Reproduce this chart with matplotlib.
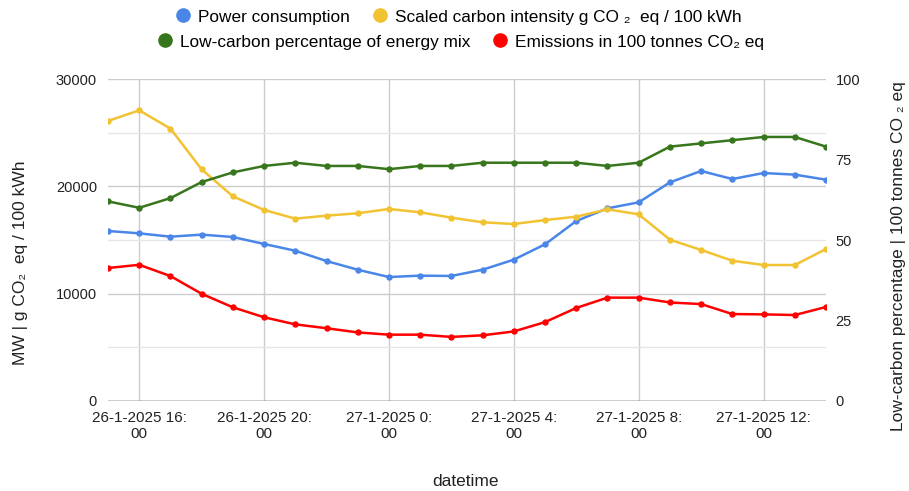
import matplotlib
matplotlib.use("Agg")
import matplotlib.pyplot as plt
from matplotlib.lines import Line2D
import pandas as pd

plt.rcParams['font.family'] = ['Liberation Sans', 'DejaVu Sans']

# hourly readings, 26-1-2025 15:00 .. 27-1-2025 14:00
times = pd.date_range("2025-01-26 15:00", "2025-01-27 14:00", freq="h")

power_mw = [15840, 15620, 15310, 15500, 15280, 14630, 14000, 13040, 12230, 11550,
            11680, 11650, 12230, 13170, 14600, 16770, 17950, 18510, 20370, 21430,
            20680, 21240, 21090, 20620]
carbon_intensity = [26090, 27080, 25380, 21580, 19070, 17800, 16990, 17270, 17490,
                    17890, 17580, 17080, 16650, 16490, 16860, 17170, 17860, 17390,
                    15030, 14070, 13070, 12670, 12670, 14160]
low_carbon_pct = [62, 60, 63, 68, 71, 73, 74, 73, 73, 72, 73, 73, 74, 74, 74, 74,
                  73, 74, 79, 80, 81, 82, 82, 79]
emissions = [41.3, 42.3, 38.8, 33.3, 29.1, 26.0, 23.8, 22.6, 21.3, 20.6, 20.6, 19.9,
             20.4, 21.6, 24.5, 28.9, 32.1, 32.1, 30.6, 30.1, 27.0, 26.9, 26.7, 29.2]

left_ticks = [0, 10000, 20000, 30000]
right_ticks = [0, 25, 50, 75, 100]
tick_hours = pd.date_range("2025-01-26 16:00", "2025-01-27 12:00", freq="4h")

c_blue = "#4a86e8"
c_yellow = "#f1c232"
c_green = "#38761d"
c_red = "#ff0000"
txt = "#222222"

fig = plt.figure(figsize=(9.09, 4.91), dpi=100)
ax = fig.add_axes([0.1188, 0.1833, 0.7899, 0.6558])
ax2 = ax.twinx()

lw, ms = 1.8, 3.6
ax.plot(times, power_mw, color=c_blue, lw=lw, marker="o", ms=ms, zorder=3)
ax.plot(times, carbon_intensity, color=c_yellow, lw=lw, marker="o", ms=ms, zorder=3)
ax2.plot(times, low_carbon_pct, color=c_green, lw=lw, marker="o", ms=ms, zorder=3)
ax2.plot(times, emissions, color=c_red, lw=lw, marker="o", ms=ms, zorder=3)

ax.set_xlim(times[0], times[-1])
ax.set_ylim(0, 30000)
ax2.set_ylim(0, 100)

ax.set_yticks(left_ticks)
ax.set_yticks(range(5000, 30000, 10000), minor=True)
ax.set_yticklabels([str(v) for v in left_ticks])
ax2.set_yticks(right_ticks)
ax2.set_yticklabels([str(v) for v in right_ticks])

ax.set_xticks(tick_hours)
ax.set_xticklabels([f"{d.day}-{d.month}-{d.year} {d.hour}:\n00" for d in tick_hours])

ax.grid(True, which="major", axis="y", color="#cccccc", lw=1)
ax.grid(True, which="minor", axis="y", color="#e6e6e6", lw=1)
ax.grid(True, which="major", axis="x", color="#cccccc", lw=1)
ax.set_axisbelow(True)

for a in (ax, ax2):
    for s in a.spines.values():
        s.set_visible(False)
    a.tick_params(length=0, labelsize=10.5, colors=txt, which="both")
ax.axhline(0, color="#333333", lw=1, zorder=2)
ax.tick_params(axis="x", pad=7, labelsize=11)
ax.tick_params(axis="y", pad=8)
ax2.tick_params(axis="y", pad=7)

# axis titles placed directly on the figure
fig.text(466 / 909, 1 - 481 / 491, "datetime", fontsize=12.5, color=txt,
         ha="center", va="center")
fig.text(21 / 909, 1 - 263 / 491, "MW | g CO\u2082  eq / 100 kWh", fontsize=12.5,
         color=txt, rotation=90, ha="center", va="center")
fig.text(898 / 909, 1 - 256 / 491, "Low-carbon percentage | 100 tonnes CO \u2082 eq",
         fontsize=12.5, color=txt, rotation=90, ha="center", va="center")


def handle(color):
    return Line2D([], [], ls="none", marker="o", ms=9.5, color=color)


leg_kw = dict(loc="center", ncol=2, frameon=False, fontsize=12.4,
              handletextpad=0.37, columnspacing=1.2, handlelength=1.0,
              borderpad=0, borderaxespad=0)
fig.legend([handle(c_blue), handle(c_yellow)],
           ["Power consumption", "Scaled carbon intensity g CO \u2082  eq / 100 kWh"],
           bbox_to_anchor=(458 / 909, 1 - 17 / 491), **leg_kw)
fig.legend([handle(c_green), handle(c_red)],
           ["Low-carbon percentage of energy mix", "Emissions in 100 tonnes CO\u2082 eq"],
           bbox_to_anchor=(460 / 909, 1 - 42 / 491), **leg_kw)

fig.savefig("out.png", dpi=100)
